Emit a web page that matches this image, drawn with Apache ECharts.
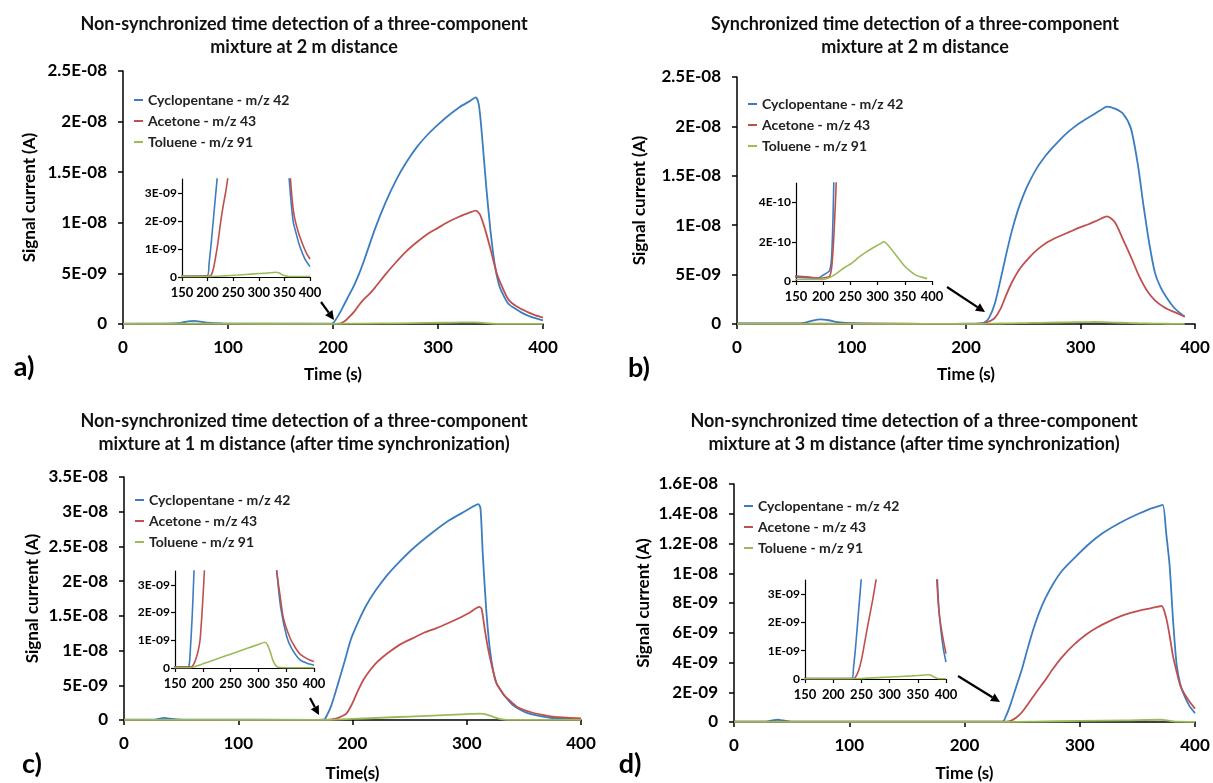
<!DOCTYPE html>
<html>
<head>
<meta charset="utf-8">
<script src="https://cdn.jsdelivr.net/npm/echarts@6.0.0/dist/echarts.min.js"></script>
<style>
  html, body { margin: 0; padding: 0; background: #fff; }
  #chart { width: 1213px; height: 783px; }
</style>
</head>
<body>
<div id="chart"></div>
<script>
// all currents in nA (1E-09 A), time in s

// a) non-synchronized, 2 m
const aCycloT = [0, 40, 55, 62, 67, 72, 80, 95, 150, 199, 203, 207, 211, 215, 220, 225, 230, 240, 250, 260, 270, 280, 290, 300, 310, 320, 330, 336, 339, 342, 346, 350, 354, 358, 362, 367, 373, 380, 390, 400]
const aCycloV = [0.03, 0.04, 0.12, 0.26, 0.3, 0.26, 0.13, 0.05, 0.03, 0.04, 0.5, 1.2, 2.0, 2.8, 3.8, 5.0, 6.4, 9.4, 12.0, 14.2, 16.0, 17.5, 18.7, 19.7, 20.6, 21.4, 22.0, 22.4, 21.6, 18.5, 13.5, 9.2, 5.9, 3.9, 2.9, 2.0, 1.55, 1.1, 0.65, 0.37]
const aAcetT = [0, 150, 204, 208, 212, 216, 220, 225, 230, 235, 240, 250, 260, 270, 280, 290, 300, 310, 320, 330, 336, 340, 345, 350, 356, 361, 366, 370, 378, 386, 393, 400]
const aAcetV = [0.02, 0.02, 0.03, 0.1, 0.35, 0.75, 1.2, 1.9, 2.5, 3.0, 3.6, 4.9, 6.1, 7.2, 8.1, 8.9, 9.5, 10.1, 10.6, 11.0, 11.2, 10.8, 9.3, 7.4, 5.0, 3.7, 2.6, 2.1, 1.55, 1.15, 0.85, 0.64]
const aTolT = [0, 60, 67, 75, 200, 230, 260, 290, 315, 334, 340, 346, 352, 360, 400]
const aTolV = [0.02, 0.03, 0.05, 0.03, 0.02, 0.04, 0.07, 0.11, 0.14, 0.17, 0.14, 0.08, 0.04, 0.02, 0.02]

// b) synchronized, 2 m
const bCycloT = [0, 50, 60, 66, 73, 80, 88, 100, 150, 190, 200, 212, 216, 220, 225, 230, 235, 240, 245, 250, 255, 262, 270, 276, 285, 293, 300, 310, 317, 323, 330, 337, 344, 350, 355, 360, 365, 370, 375, 381, 386, 391]
const bCycloV = [0.05, 0.06, 0.15, 0.35, 0.47, 0.38, 0.2, 0.08, 0.02, 0.015, 0.03, 0.055, 0.15, 0.6, 2.0, 4.4, 7.0, 9.4, 11.4, 13.0, 14.3, 15.8, 17.1, 17.9, 19.0, 19.8, 20.4, 21.1, 21.6, 22.0, 21.8, 21.3, 19.8, 16.2, 12.0, 8.2, 5.2, 3.7, 2.7, 1.75, 1.2, 0.74]
const bAcetT = [0, 100, 150, 175, 190, 205, 212, 216, 220, 225, 230, 235, 240, 247, 255, 262, 270, 280, 290, 300, 307, 315, 323, 330, 337, 344, 351, 358, 365, 373, 381, 386, 391]
const bAcetV = [0.03, 0.03, 0.025, 0.02, 0.015, 0.018, 0.025, 0.08, 0.25, 0.6, 1.5, 2.9, 4.2, 5.6, 6.7, 7.5, 8.2, 8.8, 9.3, 9.8, 10.1, 10.5, 10.9, 10.3, 8.6, 6.8, 4.9, 3.4, 2.4, 1.7, 1.25, 1.0, 0.74]
const bTolT = [0, 150, 200, 210, 220, 230, 240, 252, 265, 280, 295, 305, 312, 320, 330, 340, 350, 360, 370, 380, 391]
const bTolV = [0.01, 0.008, 0.008, 0.015, 0.03, 0.05, 0.07, 0.09, 0.12, 0.15, 0.175, 0.19, 0.2, 0.18, 0.145, 0.11, 0.075, 0.05, 0.03, 0.02, 0.012]

// c) 1 m, after time synchronization
const cCycloT = [0, 25, 30, 35, 40, 47, 55, 170, 175, 178, 181, 184, 188, 193, 199, 206, 212, 220, 230, 240, 253, 270, 285, 300, 306, 310, 312, 314, 317, 320, 323, 326, 330, 333, 340, 351, 360, 375, 390, 400]
const cCycloV = [0.05, 0.05, 0.15, 0.3, 0.2, 0.1, 0.05, 0.03, 0.05, 0.8, 1.9, 3.4, 5.6, 8.4, 11.8, 14.5, 16.5, 18.6, 20.8, 22.6, 24.7, 27.0, 28.8, 30.2, 30.8, 31.1, 30.5, 24.0, 16.0, 10.5, 7.2, 5.3, 4.2, 3.5, 2.2, 1.13, 0.7, 0.29, 0.15, 0.1]
const cAcetT = [0, 170, 180, 184, 188, 192, 195, 198, 201, 205, 210, 215, 220, 226, 233, 243, 253, 263, 273, 283, 293, 302, 311, 313, 316, 319, 323, 326, 330, 333, 339, 345, 357, 366, 375, 388, 400]
const cAcetV = [0.03, 0.03, 0.04, 0.15, 0.35, 0.65, 1.0, 1.8, 2.8, 4.3, 5.9, 7.1, 8.1, 9.0, 9.9, 11.0, 11.8, 12.6, 13.2, 13.9, 14.65, 15.4, 16.3, 16.0, 12.8, 10.0, 7.1, 5.3, 4.2, 3.5, 2.6, 1.8, 1.08, 0.75, 0.5, 0.33, 0.23]
const cTolT = [0, 175, 180, 200, 220, 240, 260, 280, 300, 312, 316, 321, 327, 333, 340, 400]
const cTolV = [0.01, 0.01, 0.02, 0.15, 0.29, 0.43, 0.57, 0.71, 0.85, 0.93, 0.85, 0.6, 0.23, 0.06, 0.02, 0.01]

// d) 3 m, after time synchronization
const dCycloT = [0, 28, 33, 38, 43, 50, 100, 233, 236, 240, 245, 250, 255, 260, 265, 270, 277, 285, 295, 307, 320, 335, 351, 360, 368, 372, 375, 378, 381, 384, 387, 390, 395, 400]
const dCycloV = [0.02, 0.02, 0.1, 0.15, 0.1, 0.03, 0.02, 0.02, 0.4, 1.2, 2.4, 3.6, 5.0, 6.3, 7.4, 8.3, 9.3, 10.2, 11.0, 11.9, 12.7, 13.4, 14.0, 14.3, 14.5, 14.6, 12.7, 10.5, 6.8, 3.9, 2.6, 1.9, 1.1, 0.6]
const dAcetT = [0, 236, 240, 245, 250, 255, 262, 270, 276, 285, 295, 305, 315, 325, 335, 345, 355, 365, 371, 375, 378, 381, 384, 387, 390, 395, 400]
const dAcetV = [0.02, 0.02, 0.08, 0.3, 0.67, 1.2, 1.97, 2.8, 3.5, 4.4, 5.2, 5.85, 6.35, 6.75, 7.1, 7.35, 7.55, 7.7, 7.8, 7.0, 5.8, 4.4, 3.4, 2.5, 2.0, 1.4, 0.9]
const dTolT = [0, 240, 260, 300, 340, 370, 378, 385, 400]
const dTolV = [0.01, 0.01, 0.03, 0.07, 0.11, 0.15, 0.08, 0.02, 0.01]

const seriesNames = ['Cyclopentane - m/z 42', 'Acetone - m/z 43', 'Toluene - m/z 91']
const colors = ['#3b7dc0', '#c0504d', '#9bbb59']
const FONT = 'Lato'

const panels = [
  {
    title: 'Non-synchronized time detection of a three-component\nmixture at 2 m distance',
    titleX: 304, titleTop: 13, letter: 'a)', letterPos: [24, 367],
    main: { left: 123, top: 71, width: 420, height: 253, max: 25, interval: 5 },
    inset: { left: 182, top: 179, width: 128, height: 98, max: 3.5, ticks: [0, 1, 2, 3] },
    legend: [134, 92], yNameGap: 85, xName: 'Time (s)', xNameGap: 42,
    arrow: [321, 302, 334, 320],
    data: [[aCycloT, aCycloV], [aAcetT, aAcetV], [aTolT, aTolV]]
  },
  {
    title: 'Synchronized time detection of a three-component\nmixture at 2 m distance',
    titleX: 915, titleTop: 13, letter: 'b)', letterPos: [639, 368],
    main: { left: 737, top: 77, width: 458, height: 247, max: 25, interval: 5 },
    inset: { left: 796, top: 183, width: 136, height: 98, max: 0.5, ticks: [0, 0.2, 0.4] },
    legend: [748, 96], yNameGap: 89, xName: 'Time (s)', xNameGap: 42,
    arrow: [947, 287, 985, 312],
    data: [[bCycloT, bCycloV], [bAcetT, bAcetV], [bTolT, bTolV]]
  },
  {
    title: 'Non-synchronized time detection of a three-component\nmixture at 1 m distance (after time synchronization)',
    titleX: 304, titleTop: 410, letter: 'c)', letterPos: [32, 764],
    main: { left: 124, top: 477, width: 457, height: 246, max: 35, interval: 5 },
    inset: { left: 175, top: 571, width: 139, height: 97, max: 3.5, ticks: [0, 1, 2, 3] },
    legend: [135, 492], yNameGap: 83, xName: 'Time(s)', xNameGap: 45,
    arrow: [310, 698, 319, 715],
    data: [[cCycloT, cCycloV], [cAcetT, cAcetV], [cTolT, cTolV]]
  },
  {
    title: 'Non-synchronized time detection of a three-component\nmixture at 3 m distance (after time synchronization)',
    titleX: 914, titleTop: 410, letter: 'd)', letterPos: [630, 764],
    main: { left: 734, top: 484, width: 461, height: 239, max: 16, interval: 2 },
    inset: { left: 805, top: 580, width: 141, height: 99, max: 3.5, ticks: [0, 1, 2, 3] },
    legend: [744, 498], yNameGap: 82, xName: 'Time (s)', xNameGap: 43,
    arrow: [958, 676, 1000, 702],
    data: [[dCycloT, dCycloV], [dAcetT, dAcetV], [dTolT, dTolV]]
  }
]

// Excel-like scientific labels: 2.5E-08, 5E-09, 0
const sciLabel = (nA) => {
  if (Math.abs(nA) < 1e-9) return '0'
  const s = Number((nA * 1e-9).toPrecision(3)).toExponential()
  const [m, e] = s.split('e')
  const n = parseInt(e, 10)
  return m + 'E' + (n < 0 ? '-' : '+') + String(Math.abs(n)).padStart(2, '0')
}

const black = { color: '#000', width: 1.5 }
const boldText = (size) => ({ fontFamily: FONT, fontWeight: 'bold', fontSize: size, color: '#000' })

const grids = []
const xAxes = []
const yAxes = []
const series = []
const legends = []
const titles = []
const graphics = []

panels.forEach((p, i) => {
  const mi = i * 2
  const ii = i * 2 + 1
  grids.push({ left: p.main.left, top: p.main.top, width: p.main.width, height: p.main.height })
  grids.push({ left: p.inset.left, top: p.inset.top, width: p.inset.width, height: p.inset.height })

  xAxes.push({
    type: 'value', gridIndex: mi, min: 0, max: 400, interval: 100,
    axisLine: { lineStyle: black }, axisTick: { length: 5, lineStyle: black },
    axisLabel: { ...boldText(17), margin: 15 }, splitLine: { show: false },
    name: p.xName, nameLocation: 'middle', nameGap: p.xNameGap, nameTextStyle: boldText(17)
  })
  xAxes.push({
    type: 'value', gridIndex: ii, min: 150, max: 400, interval: 50,
    axisLine: { lineStyle: { color: '#000', width: 1.2 } }, axisTick: { length: 4, lineStyle: { color: '#000', width: 1.2 } },
    axisLabel: { ...boldText(13), margin: 9 }, splitLine: { show: false }
  })
  yAxes.push({
    type: 'value', gridIndex: mi, min: 0, max: p.main.max, interval: p.main.interval,
    axisLine: { show: true, lineStyle: black }, axisTick: { show: true, length: 5, lineStyle: black },
    axisLabel: { ...boldText(17), margin: 16, formatter: sciLabel }, splitLine: { show: false },
    name: 'Signal current (A)', nameLocation: 'middle', nameGap: p.yNameGap, nameTextStyle: boldText(17)
  })
  yAxes.push({
    type: 'value', gridIndex: ii, min: 0, max: p.inset.max,
    axisLine: { show: true, lineStyle: { color: '#000', width: 1.2 } },
    axisTick: { show: true, length: 4, lineStyle: { color: '#000', width: 1.2 }, customValues: p.inset.ticks },
    axisLabel: { ...boldText(12), margin: 5, formatter: sciLabel, customValues: p.inset.ticks },
    splitLine: { show: false }
  })

  p.data.forEach(([t, v], k) => {
    const pts = t.map((x, j) => [x, v[j]])
    const base = {
      name: seriesNames[k], type: 'line', data: pts, showSymbol: false, smooth: 0.25,
      itemStyle: { color: colors[k] }, z: 2 + k
    }
    series.push({ ...base, xAxisIndex: mi, yAxisIndex: mi, lineStyle: { color: colors[k], width: 1.8 } })
    series.push({ ...base, xAxisIndex: ii, yAxisIndex: ii, lineStyle: { color: colors[k], width: 1.6 } })
  })

  legends.push({
    data: seriesNames, orient: 'vertical', left: p.legend[0], top: p.legend[1],
    icon: 'rect', itemWidth: 9, itemHeight: 2, itemGap: 5, padding: 0, selectedMode: false,
    textStyle: { fontFamily: FONT, fontWeight: 'bold', fontSize: 14, color: '#222', lineHeight: 16 }
  })

  titles.push({
    text: p.title, left: p.titleX, top: p.titleTop, textAlign: 'center', padding: 0,
    textStyle: { fontFamily: FONT, fontWeight: 'bold', fontSize: 18, lineHeight: 23, color: '#111' }
  })

  graphics.push({
    type: 'text', x: p.letterPos[0], y: p.letterPos[1],
    style: { text: p.letter, fontFamily: FONT, fontWeight: 'bold', fontSize: 27, fill: '#000', align: 'center', verticalAlign: 'middle' }
  })

  // arrow pointing at the zoomed region
  const [x1, y1, x2, y2] = p.arrow
  const len = Math.hypot(x2 - x1, y2 - y1)
  const ux = (x2 - x1) / len
  const uy = (y2 - y1) / len
  const hl = 9
  const hw = 4.5
  const bx = x2 - ux * hl
  const by = y2 - uy * hl
  graphics.push({
    type: 'line', shape: { x1, y1, x2: bx, y2: by },
    style: { stroke: '#000', lineWidth: 2.2 }
  })
  graphics.push({
    type: 'polygon',
    shape: { points: [[x2, y2], [bx - uy * hw, by + ux * hw], [bx + uy * hw, by - ux * hw]] },
    style: { fill: '#000' }
  })
})

const chart = echarts.init(document.getElementById('chart'))
chart.setOption({
  animation: false,
  textStyle: { fontFamily: FONT },
  title: titles,
  legend: legends,
  grid: grids,
  xAxis: xAxes,
  yAxis: yAxes,
  series: series,
  graphic: graphics
})
</script>
</body>
</html>
